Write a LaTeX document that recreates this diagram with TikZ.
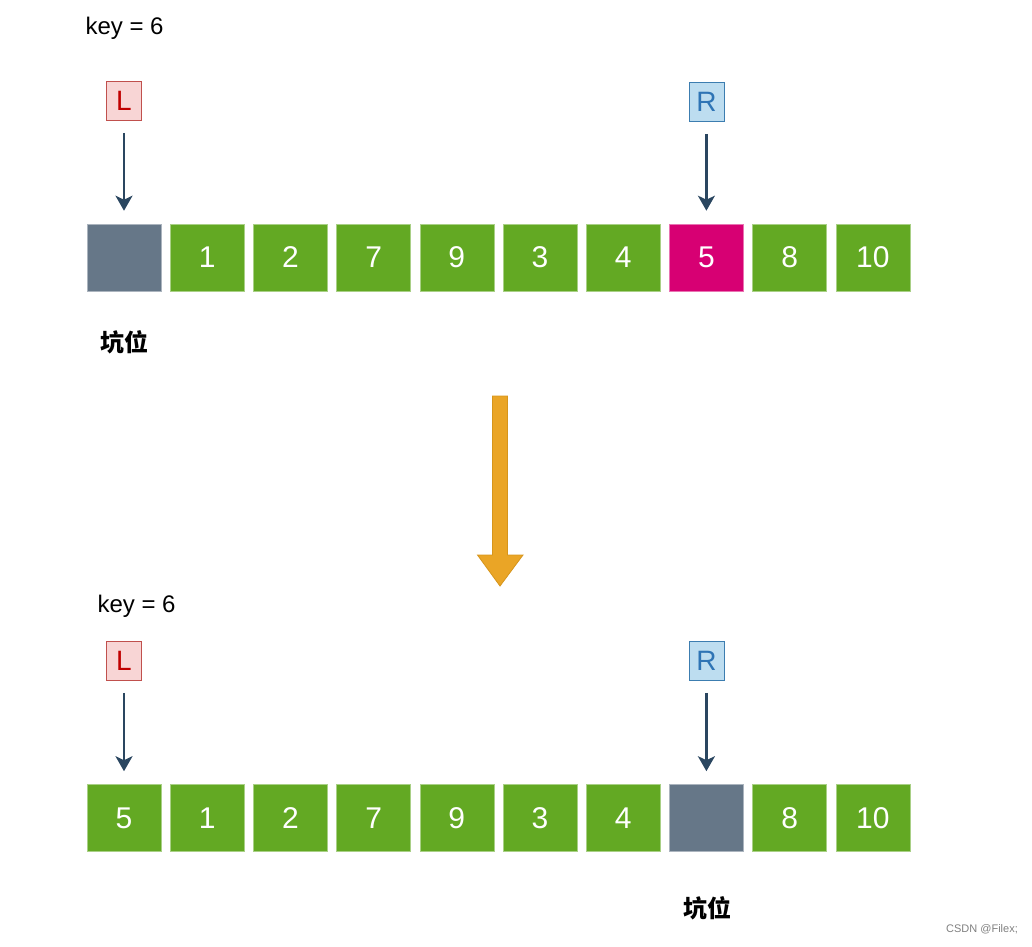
\documentclass[tikz,border=0pt]{standalone}
\usepackage{fontspec}
\setmainfont{Liberation Sans}
\newfontfamily\cjk{Noto Sans CJK SC}
\usetikzlibrary{arrows.meta}
\definecolor{cellgreen}{HTML}{63A923}
\definecolor{cellgray}{HTML}{667788}
\definecolor{cellpink}{HTML}{D70073}
\definecolor{ptrdark}{HTML}{2A4660}
\definecolor{lred}{HTML}{C00000}
\definecolor{lredfill}{HTML}{F8D5D5}
\definecolor{lredline}{HTML}{C0504D}
\definecolor{rblue}{HTML}{2E74B5}
\definecolor{rbluefill}{HTML}{BDDDF0}
\definecolor{rblueline}{HTML}{3C7DB0}
\definecolor{flowor}{HTML}{EAA526}
\definecolor{flowline}{HTML}{D6951C}

\begin{document}
\begin{tikzpicture}[x=1pt, y=-1pt,
    cell/.style={fill=cellgreen, draw=cellgreen!55!white, line width=0.6pt,
                 minimum width=74pt, minimum height=67pt, inner sep=0pt,
                 text=white, font=\fontsize{30}{30}\selectfont},
    hole/.style={cell, fill=cellgray, draw=cellgray!55!white},
    hot/.style={cell, fill=cellpink, draw=cellpink!55!white},
    lptr/.style={draw=lredline, fill=lredfill, text=lred, line width=0.8pt,
                 minimum width=35pt, minimum height=39pt, inner sep=0pt,
                 font=\fontsize{28}{28}\selectfont},
    rptr/.style={lptr, draw=rblueline, fill=rbluefill, text=rblue},
    ptrarrow/.style={-{Stealth[length=15pt,width=17pt,inset=4pt]}, draw=ptrdark,
                     line width=2.2pt, shorten <=12pt, shorten >=13pt},
    keylbl/.style={anchor=west, font=\fontsize{24}{24}\selectfont},
    pitlbl/.style={font=\cjk\bfseries\fontsize{24}{24}\selectfont},
    flow/.style={fill=flowor, draw=flowline, line width=0.8pt, line join=miter}
  ]
    \useasboundingbox (0,0) rectangle (1032,946);

    \node[keylbl] (tkey) at (82,28) {key = 6};
    \foreach \i/\v/\s in {0//hole,1/1/cell,2/2/cell,3/7/cell,4/9/cell,
                          5/3/cell,6/4/cell,7/5/hot,8/8/cell,9/10/cell}
      \node[\s] (t\i) at ({124+83.2*\i},257.5) {\v};
    \node[lptr] (tl) at (124,101) {L};
    \node[rptr] (tr) at ({124+83.2*7},102) {R};
    \draw[ptrarrow] (tl.south) -- (t0.north);
    \draw[ptrarrow] (tr.south) -- (t7.north);
    \node[pitlbl] (tpit) at (124,342) {坑位};

    \coordinate (flowtop) at (500,396);
    \coordinate (flowtip) at (500,586);
    \filldraw[flow] (flowtop) ++(-7.5,0) -- ++(15,0) -- ++(0,159) -- ++(15.5,0)
      -- (flowtip) -- ++(-22.5,-31) -- ++(15,0) -- cycle;

    \node[keylbl] (bkey) at (94,606) {key = 6};
    \foreach \i/\v/\s in {0/5/cell,1/1/cell,2/2/cell,3/7/cell,4/9/cell,
                          5/3/cell,6/4/cell,7//hole,8/8/cell,9/10/cell}
      \node[\s] (b\i) at ({124+83.2*\i},818) {\v};
    \node[lptr] (bl) at (124,661) {L};
    \node[rptr] (br) at ({124+83.2*7},661) {R};
    \draw[ptrarrow] (bl.south) -- (b0.north);
    \draw[ptrarrow] (br.south) -- (b7.north);
    \node[pitlbl] (bpit) at (707,908) {坑位};

    \node[text=gray, font=\fontsize{11}{11}\selectfont] (mark) at (982,929) {CSDN @Filex;};
  \end{tikzpicture}
\end{document}
